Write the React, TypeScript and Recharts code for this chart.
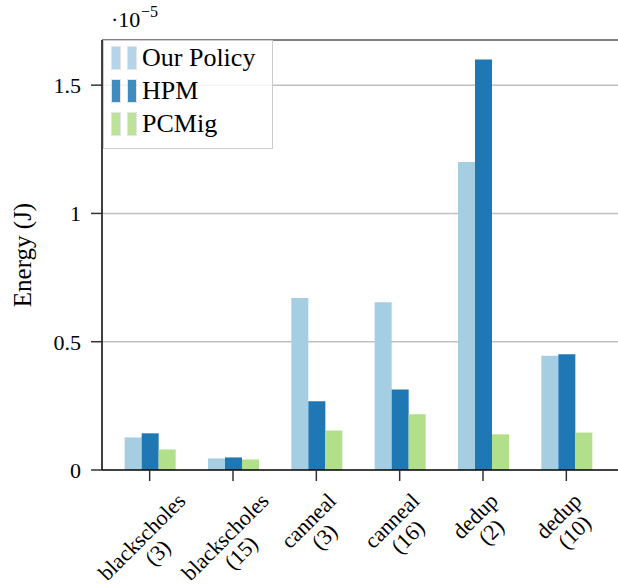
import React from 'react';
import {
  BarChart,
  Bar,
  XAxis,
  YAxis,
  CartesianGrid,
  ReferenceLine,
} from 'recharts';

// values are in units of 1e-5 J
const categories = [
  'blackscholes (3)',
  'blackscholes (15)',
  'canneal (3)',
  'canneal (16)',
  'dedup (2)',
  'dedup (10)',
];
const ourPolicy = [0.127, 0.045, 0.67, 0.654, 1.2, 0.445];
const hpm = [0.143, 0.049, 0.268, 0.314, 1.6, 0.451];
const pcmig = [0.08, 0.041, 0.154, 0.217, 0.139, 0.146];
const yTicks = [0, 0.5, 1, 1.5];
const yMax = 1.676;

const seriesList = [
  { key: 'ourPolicy', name: 'Our Policy', color: '#a6cee3' },
  { key: 'hpm', name: 'HPM', color: '#1f78b4' },
  { key: 'pcmig', name: 'PCMig', color: '#b2df8a' },
];

const data = categories.map((name, i) => ({
  name,
  ourPolicy: ourPolicy[i],
  hpm: hpm[i],
  pcmig: pcmig[i],
}));

const FONT = '"Liberation Serif", "DejaVu Serif", serif';

let ctx: CanvasRenderingContext2D | null = null;
const textWidth = (s: string, size: number) => {
  if (!ctx) ctx = document.createElement('canvas').getContext('2d');
  if (!ctx) return s.length * size * 0.45;
  ctx.font = `${size}px "Liberation Serif"`;
  return ctx.measureText(s).width;
};

// two-line label rotated 45deg, centred on the tick, top of its box just below the tick
const XTick = ({ x, y, payload }: any) => {
  const label: string = payload.value;
  const cut = label.lastIndexOf(' ');
  const lines = [label.slice(0, cut), label.slice(cut + 1)];
  const lh = 22.5;
  const w = Math.max(...lines.map((l) => textWidth(l, 22)));
  const h = lh * lines.length;
  const cy = y + 6 + ((w + h) / 2) * 0.7071;
  return (
    <g transform={`translate(${x},${cy}) rotate(-45)`}>
      {lines.map((l, i) => (
        <text
          key={i}
          x={0}
          y={(i - (lines.length - 1) / 2) * lh}
          textAnchor="middle"
          dominantBaseline="central"
          fontFamily={FONT}
          fontSize={22}
          fill="#000"
        >
          {l}
        </text>
      ))}
    </g>
  );
};

const YLabel = ({ viewBox }: any) => {
  const { x, y, height } = viewBox;
  return (
    <g>
      <text
        transform={`translate(${x + 22},${y + height / 2}) rotate(-90)`}
        textAnchor="middle"
        dominantBaseline="central"
        fontFamily={FONT}
        fontSize={25}
        fill="#000"
      >
        Energy (J)
      </text>
      <text x={111} y={27} fontFamily={FONT} fontSize={22} fill="#000">
        ·10
      </text>
      <text x={141} y={17} fontFamily={FONT} fontSize={16} fill="#000">
        −5
      </text>
    </g>
  );
};

const LegendBox = () => (
  <div
    style={{
      position: 'absolute',
      left: 103,
      top: 40,
      width: 170,
      height: 109,
      boxSizing: 'border-box',
      background: 'rgba(255,255,255,0.82)',
      border: '1px solid #cccccc',
      padding: '0 0 10px 0',
      fontFamily: FONT,
      fontSize: 26,
      color: '#000',
    }}
  >
    {seriesList.map((s) => (
      <div key={s.key} style={{ display: 'flex', alignItems: 'center', height: 33 }}>
        <span style={{ width: 8, height: 22, marginLeft: 8, background: s.color, opacity: 0.85, outline: '1px solid rgba(0,0,0,0.12)' }} />
        <span style={{ width: 8, height: 22, marginLeft: 8, background: s.color, opacity: 0.85, outline: '1px solid rgba(0,0,0,0.12)' }} />
        <span style={{ marginLeft: 6, lineHeight: '33px' }}>{s.name}</span>
      </div>
    ))}
  </div>
);

export default function App() {
  return (
    <div style={{ position: 'absolute', left: 0, top: 0, width: 618, height: 584, background: '#fff' }}>
      <BarChart
        width={618}
        height={584}
        data={data}
        margin={{ top: 40, right: 0, left: 0, bottom: 0 }}
        barCategoryGap="20%"
        barGap={0}
      >
        <CartesianGrid vertical={false} horizontal stroke="#c0c0c0" strokeWidth={1.5} horizontalValues={[0.5, 1, 1.5]} />
        <ReferenceLine y={yMax} stroke="#808080" strokeWidth={2} />
        <XAxis
          dataKey="name"
          interval={0}
          padding={{ left: 6, right: 10 }}
          axisLine={{ stroke: '#000', strokeWidth: 1.5 }}
          tickLine={{ stroke: '#333', strokeWidth: 1.5 }}
          tickSize={11}
          tickMargin={2}
          tick={<XTick />}
          height={114}
        />
        <YAxis
          width={102}
          domain={[0, yMax]}
          ticks={yTicks}
          allowDataOverflow
          tickFormatter={(v: number) => String(v)}
          axisLine={{ stroke: '#000', strokeWidth: 1.5 }}
          tickLine={{ stroke: '#333', strokeWidth: 1.5 }}
          tickSize={11}
          tickMargin={10}
          tick={{ fontFamily: FONT, fontSize: 22, fill: '#000' }}
          label={<YLabel />}
        />
        {seriesList.map((s) => (
          <Bar key={s.key} dataKey={s.key} name={s.name} fill={s.color} isAnimationActive={false} />
        ))}
      </BarChart>
      <LegendBox />
    </div>
  );
}
